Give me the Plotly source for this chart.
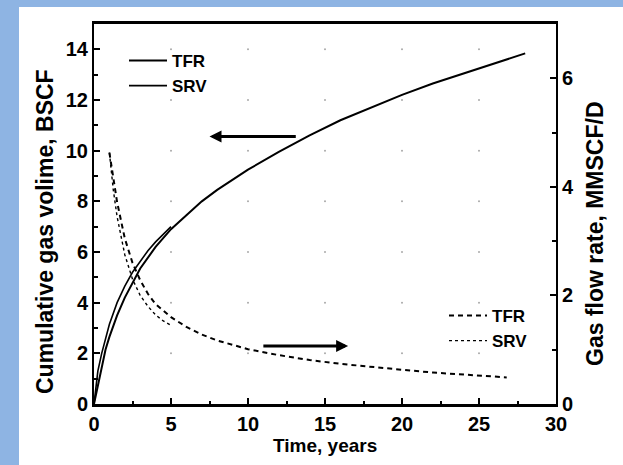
import plotly.graph_objects as go

# ---------------- data ----------------
years_tfr_cum = [0, 0.25, 0.5, 0.75, 1, 1.5, 2, 2.5, 3, 4, 5, 6, 7, 8, 9, 10, 12, 14, 16, 18, 20, 22, 24, 26, 28]
tfr_cum = [0, 0.75, 1.45, 2.15, 2.65, 3.5, 4.2, 4.8, 5.35, 6.2, 6.9, 7.45, 8.0, 8.45, 8.85, 9.25, 9.95, 10.6,
           11.2, 11.7, 12.2, 12.65, 13.05, 13.45, 13.84]

years_srv_cum = [0, 0.25, 0.5, 0.75, 1, 1.5, 2, 2.5, 3, 3.5, 4, 4.5, 5]
srv_cum = [0, 1.3, 2.0, 2.6, 3.15, 4.0, 4.65, 5.2, 5.65, 6.05, 6.4, 6.7, 7.0]

years_tfr_rate = [1.0, 1.25, 1.5, 2, 2.5, 3, 3.5, 4, 5, 6, 7, 8, 10, 12, 14, 16, 18, 20, 22, 24, 26.8]
tfr_rate = [4.63, 4.15, 3.72, 3.05, 2.6, 2.28, 2.03, 1.84, 1.6, 1.42, 1.28, 1.17, 1.01, 0.9, 0.81, 0.74,
            0.68, 0.63, 0.58, 0.54, 0.49]

years_srv_rate = [1.0, 1.25, 1.5, 2, 2.5, 3, 3.5, 4, 4.5, 5]
srv_rate = [4.63, 3.95, 3.45, 2.75, 2.3, 2.0, 1.8, 1.64, 1.53, 1.45]

x_ticks = [0, 5, 10, 15, 20, 25, 30]
y1_ticks = [0, 2, 4, 6, 8, 10, 12, 14]
y2_ticks = [0, 2, 4, 6]

FONT = "Liberation Sans, Arial, sans-serif"
BLUE = "#8EB4E3"

fig = go.Figure()

gx, gy = [], []
for xv in x_ticks[1:-1]:
    for yv in y1_ticks[1:]:
        gx.append(xv)
        gy.append(yv)
fig.add_trace(go.Scatter(x=gx, y=gy, mode="markers", marker=dict(size=2, color="#aaaaaa"),
                         showlegend=False, hoverinfo="skip"))

fig.add_trace(go.Scatter(x=years_tfr_cum, y=tfr_cum, mode="lines", name="TFR",
                         line=dict(color="black", width=2), legend="legend"))
fig.add_trace(go.Scatter(x=years_srv_cum, y=srv_cum, mode="lines", name="SRV",
                         line=dict(color="black", width=1.6), legend="legend"))
fig.add_trace(go.Scatter(x=years_tfr_rate, y=tfr_rate, mode="lines", name="TFR", yaxis="y2",
                         line=dict(color="black", width=2, dash="5px,4px"), legend="legend2"))
fig.add_trace(go.Scatter(x=years_srv_rate, y=srv_rate, mode="lines", name="SRV", yaxis="y2",
                         line=dict(color="black", width=1.4, dash="3px,3px"), legend="legend2"))

tickfont = dict(family=FONT, size=20, color="black", weight="bold")
legfont = dict(family=FONT, size=17, color="black", weight="bold")
titlefont = dict(family=FONT, size=23, color="black", weight="bold")


def px_x(p):
    return (p - 94) / 462


def px_y(p):
    return (404 - p) / 380


fig.update_layout(
    width=623, height=465,
    margin=dict(l=94, r=67, t=24, b=61, autoexpand=False),
    paper_bgcolor="white", plot_bgcolor="white",
    xaxis=dict(range=[0, 30], tickvals=x_ticks, ticks="inside", ticklen=6, tickwidth=2,
               tickcolor="black", showline=True, linecolor="black", linewidth=3, mirror=True,
               showgrid=False, zeroline=False, tickfont=tickfont,
               minor=dict(dtick=2.5, ticks="inside", ticklen=3, tickwidth=1.5, tickcolor="black")),
    yaxis=dict(range=[0, 15], tickvals=y1_ticks, ticks="inside", ticklen=6, tickwidth=2,
               tickcolor="black", showline=True, linecolor="black", linewidth=2,
               showgrid=False, zeroline=False, tickfont=tickfont,
               minor=dict(dtick=1, ticks="inside", ticklen=4, tickwidth=1.5, tickcolor="black")),
    yaxis2=dict(range=[0, 7], tickvals=y2_ticks, overlaying="y", side="right", ticks="inside",
                ticklen=6, tickwidth=2, tickcolor="black", showline=True, linecolor="black",
                linewidth=2, showgrid=False, zeroline=False, tickfont=tickfont,
                minor=dict(dtick=1, ticks="inside", ticklen=4, tickwidth=1.5, tickcolor="black")),
    legend=dict(x=px_x(124), y=px_y(43), xanchor="left", yanchor="top", itemwidth=38,
                bgcolor="rgba(0,0,0,0)", borderwidth=0, font=legfont, tracegroupgap=0),
    legend2=dict(x=px_x(444), y=px_y(298), xanchor="left", yanchor="top", itemwidth=38,
                 bgcolor="rgba(0,0,0,0)", borderwidth=0, font=legfont, tracegroupgap=0),
    annotations=[
        # light-blue frame strips (left and top), drawn as fixed-size boxes
        dict(text=" ", xref="paper", yref="paper", x=px_x(0), y=px_y(0), xanchor="left",
             yanchor="top", width=19, height=465, bgcolor=BLUE, borderpad=0, borderwidth=0,
             showarrow=False, font=dict(size=1)),
        dict(text=" ", xref="paper", yref="paper", x=px_x(0), y=px_y(0), xanchor="left",
             yanchor="top", width=623, height=7, bgcolor=BLUE, borderpad=0, borderwidth=0,
             showarrow=False, font=dict(size=1)),
        dict(text="Cumulative gas volime, BSCF", xref="paper", yref="paper",
             x=px_x(45), y=px_y(232), textangle=-90, showarrow=False,
             xanchor="center", yanchor="middle", font=titlefont),
        dict(text="Gas flow rate, MMSCF/D", xref="paper", yref="paper",
             x=px_x(595), y=px_y(234), textangle=-90, showarrow=False,
             xanchor="center", yanchor="middle", font=titlefont),
        dict(text="Time, years", xref="paper", yref="paper",
             x=0.5, y=px_y(445), showarrow=False,
             xanchor="center", yanchor="middle",
             font=dict(family=FONT, size=19, color="black", weight="bold")),
        dict(x=7.5, y=10.56, xref="x", yref="y", ax=13.2, ay=10.56, axref="x", ayref="y",
             text="", showarrow=True, arrowhead=2, arrowsize=0.8, arrowwidth=3, arrowcolor="black"),
        dict(x=16.5, y=1.07, xref="x", yref="y2", ax=10.9, ay=1.07, axref="x", ayref="y2",
             text="", showarrow=True, arrowhead=2, arrowsize=0.8, arrowwidth=3, arrowcolor="black"),
    ],
)

fig.write_html("out.html")
